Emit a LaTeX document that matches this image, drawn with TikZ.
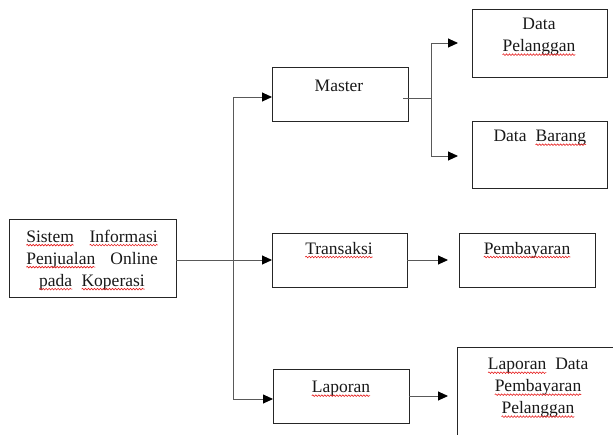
\documentclass[tikz,border=0pt]{standalone}
\usepackage{fontspec}
\setmainfont{Liberation Serif}
\usetikzlibrary{arrows.meta,decorations.pathmorphing}
\definecolor{squig}{RGB}{230,30,30}
\newcommand\sq[1]{\tikz[baseline=(sqw.base)]{\node[inner sep=0pt,outer sep=0pt,font=\fontsize{17.5}{22}\selectfont](sqw){#1};\draw[squig,line width=0.6pt,decorate,decoration={snake,amplitude=0.8pt,segment length=3pt}] ([yshift=-3pt]sqw.base west) -- ([yshift=-3pt]sqw.base east);}}
\tikzset{
  box/.style={draw=black!85, line width=0.8pt, inner sep=0pt, outer sep=0pt},
  txt/.style={inner sep=0pt, font=\fontsize{17.5}{22}\selectfont, align=center, text=black!90},
  conn/.style={draw=black!65, line width=0.9pt},
  arr/.style={conn, -{Triangle[length=10pt,width=9pt,color=black]}},
}
\begin{document}
\begin{tikzpicture}[x=1pt,y=-1pt]
\useasboundingbox (0,0) rectangle (613,434);
\clip (0,0) rectangle (613,434);
% boxes
\node[box, minimum width=167pt, minimum height=78pt] (main) at (92.5,258) {};
\node[box, minimum width=136pt, minimum height=54pt] (master) at (340,94) {};
\node[box, minimum width=135pt, minimum height=54pt] (trans) at (339.5,260) {};
\node[box, minimum width=136pt, minimum height=54pt] (lap) at (341,396) {};
\node[box, minimum width=135pt, minimum height=68pt] (dpel) at (539.5,43) {};
\node[box, minimum width=135pt, minimum height=67pt] (dbar) at (539.5,154.5) {};
\node[box, minimum width=136pt, minimum height=54pt] (bayar) at (527,260) {};
\node[box, minimum width=163pt, minimum height=113pt] (lapdata) at (538.5,403.5) {};
% texts
\node[txt] (tmain) at (92,260) {\makebox[132pt]{\sq{Sistem}\hfill\sq{Informasi}}\\
  \makebox[132pt]{\sq{Penjualan}\hfill Online}\\ \sq{pada}\ \ \sq{Koperasi}};
\node[txt] (tmaster) at (339,86) {Master};
\node[txt] (tdpel) at (539,37) {Data\\ \sq{Pelanggan}};
\node[txt] (tdbar) at (540,138) {Data\ \ \sq{Barang}};
\node[txt] (ttrans) at (339,250) {\sq{Transaksi}};
\node[txt] (tbayar) at (527,250) {\sq{Pembayaran}};
\node[txt] (tlap) at (341,389) {\sq{Laporan}};
\node[txt] (tlapdata) at (538,388) {\sq{Laporan}\ \ Data\\ \sq{Pembayaran}\\ \sq{Pelanggan}};
% connectors
\coordinate (j1) at (233,260);
\coordinate (j2) at (431,98);
\coordinate (s2) at (403,98);
\draw[arr] (main.east |- trans.west) -- (trans.west);
\draw[arr] (j1) |- ([yshift=-3pt]master.west);
\draw[arr] (j1) |- ([yshift=-3pt]lap.west);
\draw[conn] (s2) -- (j2);
\draw[arr, shorten >=14pt] (j2) |- (dpel.west);
\draw[arr, shorten >=14pt] (j2) |- ([yshift=-1.5pt]dbar.west);
\draw[arr, shorten >=11pt] (trans.east) -- (bayar.west);
\draw[arr, shorten >=9pt] (lap.east) -- (lap.east -| lapdata.west);
\end{tikzpicture}
\end{document}
